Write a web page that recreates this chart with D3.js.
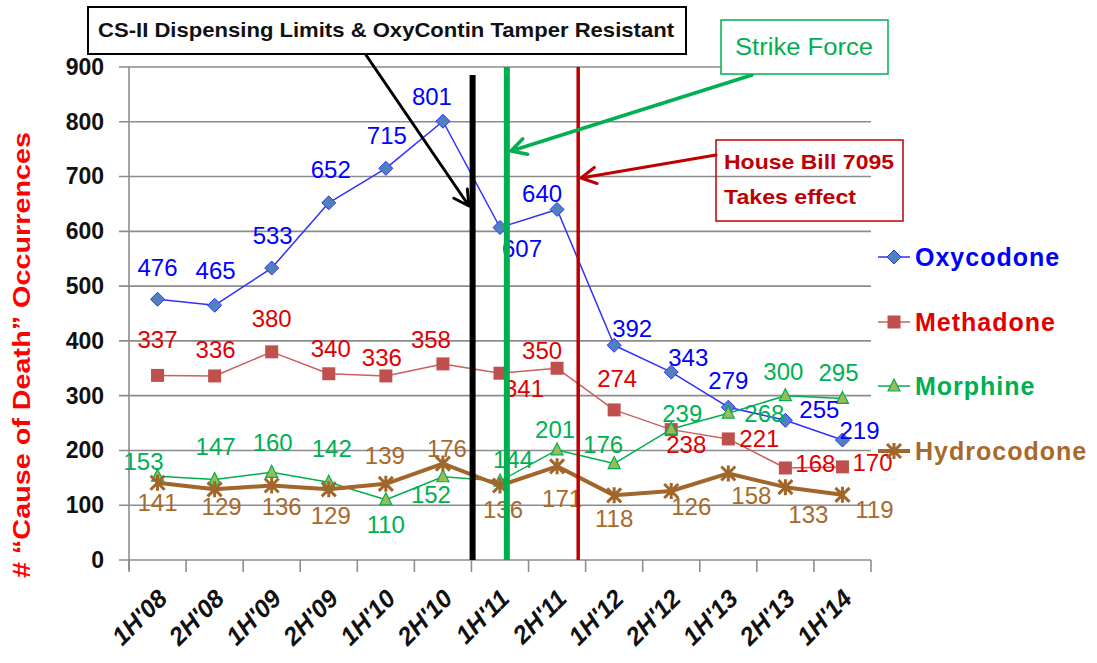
<!DOCTYPE html>
<html>
<head>
<meta charset="utf-8">
<script src="https://cdn.jsdelivr.net/npm/d3@7"></script>
<style>
  body { margin: 0; background: #fff; }
  text { font-family: "Liberation Sans", Arial, sans-serif; }
</style>
</head>
<body>
<div id="figure-div"></div>
<script>
// chart values
var periods = ["1H'08", "2H'08", "1H'09", "2H'09", "1H'10", "2H'10", "1H'11", "2H'11", "1H'12", "2H'12", "1H'13", "2H'13", "1H'14"];
var oxycodone = [476, 465, 533, 652, 715, 801, 607, 640, 392, 343, 279, 255, 219];
var methadone = [337, 336, 380, 340, 336, 358, 341, 350, 274, 238, 221, 168, 170];
var morphine = [153, 147, 160, 142, 110, 152, 144, 201, 176, 239, 268, 300, 295];
var hydrocodone = [141, 129, 136, 129, 139, 176, 136, 171, 118, 126, 158, 133, 119];
var yTicks = [0, 100, 200, 300, 400, 500, 600, 700, 800, 900];
var seriesNames = ["Oxycodone", "Methadone", "Morphine", "Hydrocodone"];
var yTitle = "# \u201cCause of Death\u201d Occurrences";

var draw_chart = function() {
	var w = 1097;
	var h = 663;
	var padL = 129, padR = 871, padT = 67, padB = 560;

	var svg = d3.select("#figure-div").append("svg")
		.attr("width", w)
		.attr("height", h);

	var xScale = d3.scaleBand()
		.domain(periods)
		.range([padL, padR]);
	var bw = xScale.bandwidth();
	var cx = function(p) { return xScale(p) + bw / 2; };

	var yScale = d3.scaleLinear()
		.domain([0, 900])
		.range([padB, padT]);

	// gridlines
	svg.selectAll("line.grid")
		.data(yTicks)
		.enter()
		.append("line")
		.attr("class", "grid")
		.attr("x1", padL - 10)
		.attr("x2", padR)
		.attr("y1", function(d) { return yScale(d); })
		.attr("y2", function(d) { return yScale(d); })
		.attr("stroke", "#8c8c8c")
		.attr("stroke-width", 1.6);

	svg.append("line")
		.attr("x1", padL).attr("x2", padL)
		.attr("y1", padT).attr("y2", padB + 10)
		.attr("stroke", "#8c8c8c")
		.attr("stroke-width", 1.6);

	// x ticks at category edges
	var edges = periods.map(function(p) { return xScale(p); }).concat([padR]);
	svg.selectAll("line.xtick")
		.data(edges)
		.enter()
		.append("line")
		.attr("class", "xtick")
		.attr("x1", function(d) { return d; })
		.attr("x2", function(d) { return d; })
		.attr("y1", padB)
		.attr("y2", padB + 12)
		.attr("stroke", "#8c8c8c")
		.attr("stroke-width", 1.6);

	// y axis labels
	var yAxis = svg.append("g")
		.attr("transform", "translate(" + padL + ",0)")
		.call(d3.axisLeft(yScale).tickValues(yTicks).tickSize(0).tickPadding(25));
	yAxis.select(".domain").remove();
	yAxis.selectAll("text")
		.style("font-family", "'Liberation Sans', Arial, sans-serif")
		.style("font-size", "23px")
		.style("font-weight", "bold")
		.attr("fill", "#111");

	// x axis labels
	svg.selectAll("text.xlab")
		.data(periods)
		.enter()
		.append("text")
		.attr("class", "xlab")
		.attr("transform", function(d) { return "translate(" + (cx(d) + 5) + "," + (padB + 34) + ") rotate(-45)"; })
		.attr("text-anchor", "end")
		.attr("dy", "0.35em")
		.style("font-size", "25px")
		.style("font-weight", "bold")
		.style("font-style", "italic")
		.attr("fill", "#111")
		.text(function(d) { return d; });

	// y title
	svg.append("text")
		.attr("transform", "translate(22,355) rotate(-90)")
		.attr("text-anchor", "middle")
		.attr("dy", "0.35em")
		.attr("textLength", 446)
		.attr("lengthAdjust", "spacingAndGlyphs")
		.style("font-size", "24px")
		.style("font-weight", "bold")
		.attr("fill", "#ff0000")
		.text(yTitle);

	// series styles and label offsets
	var series = [
		{ name: seriesNames[0], values: oxycodone, line: "#2f2fff", width: 1.5, marker: "diamond", fill: "#4f81bd", mstroke: "#2f2fff", text: "#0000ff",
		  offs: [[0,-32],[1,-35],[1,-32],[2,-33],[1,-33],[-11,-25],[22,21],[-15,-16],[18,-17],[17,-15],[0,-27],[34,-11],[17,-9]] },
		{ name: seriesNames[1], values: methadone, line: "#c8605d", width: 1.5, marker: "square", fill: "#c0504d", mstroke: "#c0504d", text: "#e00000",
		  offs: [[0,-36],[1,-26],[0,-33],[2,-25],[-4,-18],[-12,-24],[24,15],[-15,-18],[3,-31],[15,15],[31,0],[30,-4],[30,-4]] },
		{ name: seriesNames[2], values: morphine, line: "#00b050", width: 1.5, marker: "triangle", fill: "#9bbb59", mstroke: "#00b050", text: "#00b050",
		  offs: [[-14,-15],[1,-33],[1,-30],[3,-34],[0,25],[-12,18],[13,-22],[-2,-20],[-11,-19],[11,-15],[36,0],[-2,-24],[-4,-26]] },
		{ name: seriesNames[3], values: hydrocodone, line: "#a0662a", width: 4, marker: "star", fill: "#a0662a", mstroke: "#a0662a", text: "#a8692c",
		  offs: [[0,20],[7,17],[10,21],[2,26],[-1,-28],[4,-15],[3,24],[5,32],[0,23],[20,16],[23,22],[23,27],[32,15]] }
	];

	function drawMarker(g, s, x, y) {
		if (s.marker == "diamond") {
			g.append("path").attr("d", "M" + x + "," + (y - 7) + "L" + (x + 7) + "," + y + "L" + x + "," + (y + 7) + "L" + (x - 7) + "," + y + "Z")
				.attr("fill", s.fill).attr("stroke", s.mstroke).attr("stroke-width", 1);
		} else if (s.marker == "square") {
			g.append("rect").attr("x", x - 6.5).attr("y", y - 6.5).attr("width", 13).attr("height", 13)
				.attr("fill", s.fill);
		} else if (s.marker == "triangle") {
			g.append("path").attr("d", "M" + x + "," + (y - 7) + "L" + (x + 6) + "," + (y + 5) + "L" + (x - 6) + "," + (y + 5) + "Z")
				.attr("fill", s.fill).attr("stroke", s.mstroke).attr("stroke-width", 1.2);
		} else {
			g.append("path").attr("d", "M" + (x - 7) + "," + (y - 7) + "L" + (x + 7) + "," + (y + 7) + "M" + (x + 7) + "," + (y - 7) + "L" + (x - 7) + "," + (y + 7) + "M" + x + "," + (y - 8) + "L" + x + "," + (y + 8))
				.attr("stroke", s.fill).attr("stroke-width", 3);
		}
	}

	var line = d3.line()
		.x(function(d, i) { return cx(periods[i]); })
		.y(function(d) { return yScale(d); });

	series.forEach(function(s) {
		svg.append("path")
			.datum(s.values)
			.attr("d", line)
			.attr("fill", "none")
			.attr("stroke", s.line)
			.attr("stroke-width", s.width)
			.attr("stroke-linejoin", "round");
		var g = svg.append("g");
		s.values.forEach(function(v, i) { drawMarker(g, s, cx(periods[i]), yScale(v)); });
	});

	// data labels
	series.forEach(function(s) {
		svg.append("g").selectAll("text")
			.data(s.values)
			.enter()
			.append("text")
			.attr("x", function(d, i) { return cx(periods[i]) + s.offs[i][0]; })
			.attr("y", function(d, i) { return yScale(d) + s.offs[i][1]; })
			.attr("text-anchor", "middle")
			.attr("dy", "0.35em")
			.style("font-size", "24px")
			.attr("fill", s.text)
			.text(function(d) { return d; });
	});

	// event lines (position in category units)
	var events = [
		{ pos: 6.02, color: "#000000", width: 6, y1: 75 },
		{ pos: 6.62, color: "#00b050", width: 6, y1: yScale(900) },
		{ pos: 7.87, color: "#c00000", width: 3.5, y1: yScale(900) }
	];
	svg.selectAll("line.event")
		.data(events)
		.enter()
		.append("line")
		.attr("class", "event")
		.attr("x1", function(d) { return padL + d.pos * bw; })
		.attr("x2", function(d) { return padL + d.pos * bw; })
		.attr("y1", function(d) { return d.y1; })
		.attr("y2", padB)
		.attr("stroke", function(d) { return d.color; })
		.attr("stroke-width", function(d) { return d.width; });

	// arrows
	function arrow(x1, y1, x2, y2, color, width) {
		var ang = Math.atan2(y2 - y1, x2 - x1);
		var len = 17, spread = 0.5;
		var p = "M" + x1 + "," + y1 + "L" + x2 + "," + y2 +
			"M" + (x2 - len * Math.cos(ang - spread)) + "," + (y2 - len * Math.sin(ang - spread)) + "L" + x2 + "," + y2 +
			"L" + (x2 - len * Math.cos(ang + spread)) + "," + (y2 - len * Math.sin(ang + spread));
		svg.append("path").attr("d", p).attr("fill", "none").attr("stroke", color)
			.attr("stroke-width", width).attr("stroke-linecap", "round").attr("stroke-linejoin", "round");
	}
	arrow(366, 55, 469, 206, "#000", 3);
	arrow(752, 75, 511, 151, "#00b050", 3.5);
	arrow(716, 155, 581, 178, "#c00000", 3);

	// annotation boxes
	svg.append("rect").attr("x", 88).attr("y", 7).attr("width", 598).attr("height", 47)
		.attr("fill", "#fff").attr("stroke", "#000").attr("stroke-width", 2);
	svg.append("text").attr("x", 98).attr("y", 30).attr("dy", "0.35em")
		.attr("textLength", 576).attr("lengthAdjust", "spacingAndGlyphs")
		.style("font-size", "21px").style("font-weight", "bold").attr("fill", "#111")
		.text("CS-II Dispensing Limits & OxyContin Tamper Resistant");

	svg.append("rect").attr("x", 721).attr("y", 20).attr("width", 167).attr("height", 54)
		.attr("fill", "#fff").attr("stroke", "#00b050").attr("stroke-width", 1.5);
	svg.append("text").attr("x", 804).attr("y", 47).attr("dy", "0.35em").attr("text-anchor", "middle")
		.attr("textLength", 138).attr("lengthAdjust", "spacingAndGlyphs")
		.style("font-size", "23px").attr("fill", "#00b050")
		.text("Strike Force");

	svg.append("rect").attr("x", 716).attr("y", 140).attr("width", 187).attr("height", 81)
		.attr("fill", "none").attr("stroke", "#c00000").attr("stroke-width", 1.5);
	svg.append("text").attr("x", 724).attr("y", 162).attr("dy", "0.35em")
		.attr("textLength", 170).attr("lengthAdjust", "spacingAndGlyphs")
		.style("font-size", "21px").style("font-weight", "bold").attr("fill", "#c00000")
		.text("House Bill 7095");
	svg.append("text").attr("x", 724).attr("y", 197).attr("dy", "0.35em")
		.attr("textLength", 132).attr("lengthAdjust", "spacingAndGlyphs")
		.style("font-size", "21px").style("font-weight", "bold").attr("fill", "#c00000")
		.text("Takes effect");

	// legend
	var legendY = [257, 322, 386, 451];
	series.forEach(function(s, i) {
		var y = legendY[i];
		svg.append("line").attr("x1", 878).attr("x2", 910).attr("y1", y).attr("y2", y)
			.attr("stroke", s.line).attr("stroke-width", s.width);
		drawMarker(svg.append("g"), s, 894, y);
		svg.append("text").attr("x", 915).attr("y", y).attr("dy", "0.35em")
			.style("font-size", "25px").style("font-weight", "bold")
			.style("letter-spacing", "1px")
			.attr("fill", s.text)
			.text(s.name);
	});
};

draw_chart();
</script>
</body>
</html>
